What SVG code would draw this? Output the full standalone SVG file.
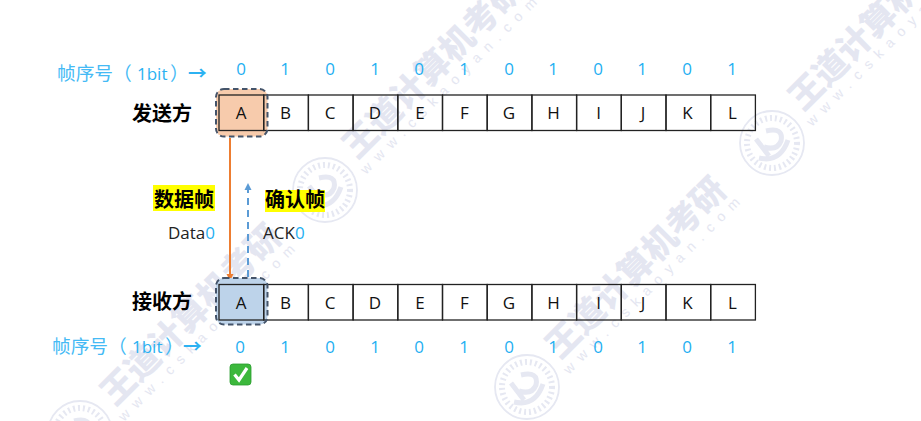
<svg xmlns="http://www.w3.org/2000/svg" width="921" height="421" viewBox="0 0 921 421">
<style>
text{font-family:"Liberation Sans","Noto Sans CJK SC",sans-serif}
.c{font-family:"Open Sans","Noto Sans CJK SC",sans-serif;font-size:17px;fill:#111;text-anchor:middle}
.n{font-family:"Open Sans","Noto Sans CJK SC",sans-serif;font-size:17px;fill:#1fb0f2;text-anchor:middle}
.b{font-family:"Noto Sans CJK SC",sans-serif;font-size:20px;font-weight:700;fill:#000}
.s{font-family:"Noto Sans CJK SC",sans-serif;font-size:18.700px;fill:#45baf5}
.o{font-family:"Open Sans",sans-serif;font-size:17px;fill:#2cb2f2}
.r{font-weight:700;fill:#2cb2f2}
.t{font-family:"Open Sans","Noto Sans CJK SC",sans-serif;font-size:17px;fill:#222}
.cell{fill:none;stroke:#222;stroke-width:1.300}
.wm{font-family:"Noto Sans CJK SC",sans-serif;font-weight:900;font-size:34px;fill:#e4e6f1}
.wu{font-family:"Liberation Sans",sans-serif;font-size:14px;letter-spacing:8px;fill:#e4e6f1}
.seal{fill:none;stroke:#e6e8f2}
.dash{fill:none;stroke:#44546a;stroke-width:2;stroke-dasharray:5.500 3.500}
</style>
<defs>
<marker id="ao" markerUnits="userSpaceOnUse" markerWidth="8" markerHeight="8" refX="7" refY="4" orient="auto"><path d="M0 0.500L7 4L0 7.500z" fill="#ed7d31"/></marker>
<marker id="ab" markerUnits="userSpaceOnUse" markerWidth="8" markerHeight="8" refX="7" refY="4" orient="auto"><path d="M0 0.500L7 4L0 7.500z" fill="#5b9bd5"/></marker>
<g id="wseal"><circle r="32" class="seal" stroke-width="1.800"/><circle r="25" class="seal" stroke-width="6" stroke-dasharray="2 3"/><path d="M-13 15Q8 20 16 -3M-6 -12Q12 -16 9 -2Q5 8 -8 4M-16 -4L-3 13" class="seal" stroke-width="5"/></g>
</defs>
<rect width="921" height="421" fill="#fff"/>
<g id="watermark">
<text class="wm" transform="translate(357 160) rotate(-45)">王道计算机考研</text>
<text class="wm" transform="translate(803 112) rotate(-45)">王道计算机考研</text>
<text class="wm" transform="translate(560 360) rotate(-45)">王道计算机考研</text>
<text class="wm" transform="translate(115 407) rotate(-45)">王道计算机考研</text>
<text class="wu" transform="translate(366 175) rotate(-45)">www.cskaoyan.com</text>
<text class="wu" transform="translate(812 127) rotate(-45)">www.cskaoyan.com</text>
<text class="wu" transform="translate(569 375) rotate(-45)">www.cskaoyan.com</text>
<text class="wu" transform="translate(124 422) rotate(-45)">www.cskaoyan.com</text>
<use href="#wseal" x="772" y="143"/>
<use href="#wseal" x="325" y="190"/>
<use href="#wseal" x="527" y="387"/>
<use href="#wseal" x="80" y="433"/>
</g>
<g id="sender-seq">
<text class="s" x="57" y="80">帧序号（<tspan class="o" x="137">1bit</tspan><tspan x="170">）</tspan><tspan class="r" x="188">→</tspan></text>
<text class="n" x="241" y="75">0</text><text class="n" x="285" y="75">1</text><text class="n" x="330" y="75">0</text><text class="n" x="375" y="75">1</text><text class="n" x="419" y="75">0</text><text class="n" x="464" y="75">1</text><text class="n" x="509" y="75">0</text><text class="n" x="553" y="75">1</text><text class="n" x="598" y="75">0</text><text class="n" x="642" y="75">1</text><text class="n" x="687" y="75">0</text><text class="n" x="732" y="75">1</text>
</g>
<g id="sender">
<text class="b" x="132" y="121">发送方</text>
<rect x="216" y="89" width="51.500" height="47.500" rx="8" fill="#f7cbac"/>
<rect class="cell" x="219" y="95" width="44.700" height="35.500"/>
<rect class="cell" x="263.700" y="95" width="44.700" height="35.500"/><rect class="cell" x="308.400" y="95" width="44.700" height="35.500"/><rect class="cell" x="353.100" y="95" width="44.700" height="35.500"/><rect class="cell" x="397.800" y="95" width="44.700" height="35.500"/><rect class="cell" x="442.500" y="95" width="44.700" height="35.500"/><rect class="cell" x="487.200" y="95" width="44.700" height="35.500"/><rect class="cell" x="531.900" y="95" width="44.700" height="35.500"/><rect class="cell" x="576.600" y="95" width="44.700" height="35.500"/><rect class="cell" x="621.300" y="95" width="44.700" height="35.500"/><rect class="cell" x="666" y="95" width="44.700" height="35.500"/><rect class="cell" x="710.700" y="95" width="44.700" height="35.500"/>
<rect class="dash" x="216" y="89" width="51.500" height="47.500" rx="8"/>
<text class="c" x="241" y="119">A</text><text class="c" x="285.500" y="119">B</text><text class="c" x="330" y="119">C</text><text class="c" x="375" y="119">D</text><text class="c" x="420" y="119">E</text><text class="c" x="464.500" y="119">F</text><text class="c" x="509" y="119">G</text><text class="c" x="553.500" y="119">H</text><text class="c" x="598.500" y="119">I</text><text class="c" x="643" y="119">J</text><text class="c" x="687.500" y="119">K</text><text class="c" x="732.500" y="119">L</text>
</g>
<g id="connectors">
<line x1="230" y1="138" x2="230" y2="281" stroke="#ed7d31" stroke-width="2" marker-end="url(#ao)"/>
<line x1="248" y1="277" x2="248" y2="183" stroke="#5b9bd5" stroke-width="2" stroke-dasharray="7 5" marker-end="url(#ab)"/>
</g>
<g id="label-data">
<rect x="153" y="185" width="62" height="26" fill="#ffff00"/>
<text class="b" x="154" y="207">数据帧</text>
<text class="t" x="168" y="239">Data<tspan fill="#1fb0f2">0</tspan></text>
</g>
<g id="label-ack">
<rect x="265" y="190" width="60" height="22" fill="#ffff00"/>
<text class="b" x="265" y="207">确认帧</text>
<text class="t" x="263" y="239">ACK<tspan fill="#1fb0f2">0</tspan></text>
</g>
<g id="receiver">
<text class="b" x="132" y="309">接收方</text>
<rect x="216" y="278" width="51.500" height="46.500" rx="8" fill="#bdd3ea"/>
<rect class="cell" x="219" y="284.500" width="44.700" height="35.500"/>
<rect class="cell" x="263.700" y="284.500" width="44.700" height="35.500"/><rect class="cell" x="308.400" y="284.500" width="44.700" height="35.500"/><rect class="cell" x="353.100" y="284.500" width="44.700" height="35.500"/><rect class="cell" x="397.800" y="284.500" width="44.700" height="35.500"/><rect class="cell" x="442.500" y="284.500" width="44.700" height="35.500"/><rect class="cell" x="487.200" y="284.500" width="44.700" height="35.500"/><rect class="cell" x="531.900" y="284.500" width="44.700" height="35.500"/><rect class="cell" x="576.600" y="284.500" width="44.700" height="35.500"/><rect class="cell" x="621.300" y="284.500" width="44.700" height="35.500"/><rect class="cell" x="666" y="284.500" width="44.700" height="35.500"/><rect class="cell" x="710.700" y="284.500" width="44.700" height="35.500"/>
<rect class="dash" x="216" y="278" width="51.500" height="46.500" rx="8"/>
<text class="c" x="241" y="309">A</text><text class="c" x="285.500" y="309">B</text><text class="c" x="330" y="309">C</text><text class="c" x="375" y="309">D</text><text class="c" x="420" y="309">E</text><text class="c" x="464.500" y="309">F</text><text class="c" x="509" y="309">G</text><text class="c" x="553.500" y="309">H</text><text class="c" x="598.500" y="309">I</text><text class="c" x="643" y="309">J</text><text class="c" x="687.500" y="309">K</text><text class="c" x="732.500" y="309">L</text>
</g>
<g id="receiver-seq">
<text class="s" x="52" y="353">帧序号（<tspan class="o" x="132">1bit</tspan><tspan x="165">）</tspan><tspan class="r" x="183">→</tspan></text>
<text class="n" x="240" y="353">0</text><text class="n" x="285" y="353">1</text><text class="n" x="330" y="353">0</text><text class="n" x="375" y="353">1</text><text class="n" x="419" y="353">0</text><text class="n" x="464" y="353">1</text><text class="n" x="509" y="353">0</text><text class="n" x="553" y="353">1</text><text class="n" x="598" y="353">0</text><text class="n" x="642" y="353">1</text><text class="n" x="687" y="353">0</text><text class="n" x="732" y="353">1</text>
</g>
<g id="check">
<rect x="230" y="364" width="21" height="21" rx="3" fill="#3cb83c" stroke="#2a9d2f" stroke-width="0.800"/>
<path d="M234.500 374.500L239 380L247 368" fill="none" stroke="#fff" stroke-width="3.200"/>
</g>
</svg>
